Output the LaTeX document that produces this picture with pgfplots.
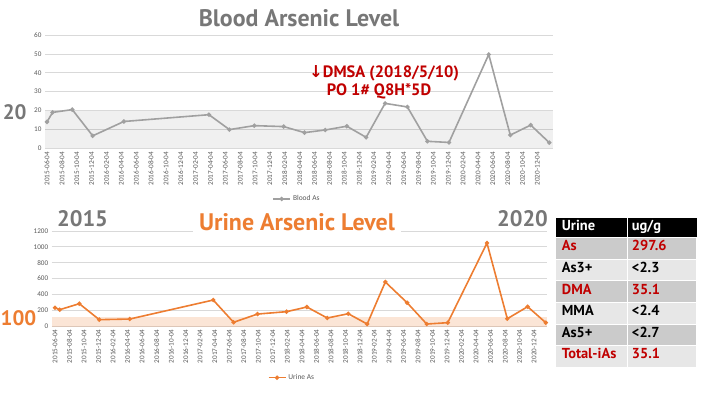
\documentclass[border=0pt]{standalone}
\usepackage{pgfplots}
\pgfplotsset{compat=1.18}
\usepackage{fontspec}
\setmainfont{Carlito}
\newfontfamily\lato{PT Sans}
\newfontfamily\dejavu{DejaVu Sans}
\definecolor{bloodgray}{HTML}{A0A0A0}
\definecolor{urineor}{HTML}{ED7D31}
\definecolor{titlegray}{HTML}{777777}
\definecolor{darkred}{HTML}{C00000}
\definecolor{gridc}{HTML}{D9D9D9}
\definecolor{tickc}{HTML}{595959}
\definecolor{rowdark}{HTML}{CBCBCB}
\definecolor{rowlight}{HTML}{E7E7E7}

\pgfplotsset{
 datestyle/.style={
  scale only axis, clip=false,
  axis line style={draw=none},
  major tick length=0pt,
  ymajorgrids, grid style={gridc, line width=0.7bp},
  xtick={0,2,...,66},
  xticklabels={2015-06-04,2015-08-04,2015-10-04,2015-12-04,2016-02-04,2016-04-04,2016-06-04,2016-08-04,2016-10-04,2016-12-04,2017-02-04,2017-04-04,2017-06-04,2017-08-04,2017-10-04,2017-12-04,2018-02-04,2018-04-04,2018-06-04,2018-08-04,2018-10-04,2018-12-04,2019-02-04,2019-04-04,2019-06-04,2019-08-04,2019-10-04,2019-12-04,2020-02-04,2020-04-04,2020-06-04,2020-08-04,2020-10-04,2020-12-04},
  tick label style={font=\fontsize{7.2}{8}\selectfont, text=tickc},
  x tick label style={rotate=90, anchor=east},
  /pgf/number format/assume math mode=true,
  /pgf/number format/1000 sep={},
  legend style={draw=none, fill=none, font=\fontsize{7.5}{8}\selectfont, text=tickc, anchor=center, inner sep=1bp},
 }
}

\begin{document}
\begin{tikzpicture}[x=1bp,y=1bp]
\path[use as bounding box] (0,0) rectangle (708,396);

% ---------------- Blood ----------------
\begin{axis}[datestyle, at={(45bp,247.7bp)}, anchor=south west, width=508bp, height=113.3bp,
  xmin=-0.27, xmax=68.1, ymin=0, ymax=60, ytick={0,10,...,60},
  legend style={at={(0.496,-0.447)}}]
\addplot[draw=none, fill=black, fill opacity=0.06, forget plot] coordinates {(-0.27,0) (68.1,0) (68.1,20) (-0.27,20)} -- cycle;
\addplot[bloodgray, line width=1.6bp, mark=*, mark size=1.3bp] coordinates {
(0,14) (0.75,19) (3.4,20.5) (6.15,6.6) (10.35,14.2) (21.8,17.8) (24.55,9.9) (27.9,12) (31.85,11.5) (34.65,8.3) (37.45,9.7) (40.35,11.7) (42.95,5.8) (45.5,23.8) (48.5,21.9) (51.2,3.7) (54.1,3.1) (59.45,49.7) (62.35,7) (65.1,12.3) (67.6,3)};
\legend{Blood As}
\end{axis}

% ---------------- Urine ----------------
\begin{axis}[datestyle, at={(51.7bp,70bp)}, anchor=south west, width=495.3bp, height=95bp,
  xmin=-0.45, xmax=67.77, ymin=0, ymax=1200, ytick={0,200,...,1200},
  legend style={at={(0.485,-0.544)}}]
\addplot[draw=none, fill=urineor, fill opacity=0.2, forget plot] coordinates {(-0.45,-12) (67.77,-12) (67.77,117) (-0.45,117)} -- cycle;
\addplot[urineor, line width=1.6bp, mark=*, mark size=1.3bp] coordinates {
(0,231) (0.65,206) (3.35,282) (6.1,80) (10.3,88) (21.8,328) (24.6,47) (27.9,151) (31.9,181) (34.7,240) (37.5,101) (40.4,155) (43.0,25) (45.5,556) (48.5,294) (51.2,25) (54.1,42) (59.5,1048) (62.3,92) (65.1,244) (67.6,42)};
\legend{Urine As}
\end{axis}

% ---------------- Texts ----------------
\node[anchor=base, text=titlegray, font=\lato\bfseries\fontsize{24}{26}\selectfont] at (299,370) {Blood Arsenic Level};
\node[anchor=base, fill=white, inner xsep=6bp, inner ysep=2bp, text=urineor, font=\lato\bfseries\fontsize{24}{26}\selectfont] at (297,165.5) {Urine Arsenic Level};
\node[anchor=base, text=titlegray, font=\lato\bfseries\fontsize{22.5}{26}\selectfont] at (82.5,169.3) {2015};
\node[anchor=base, text=titlegray, font=\lato\bfseries\fontsize{22.5}{26}\selectfont] at (522.5,169.3) {2020};
\node[anchor=base, text=titlegray, font=\lato\bfseries\fontsize{21}{24}\selectfont] at (14.7,277) {20};
\node[anchor=base, text=urineor, font=\lato\bfseries\fontsize{21}{24}\selectfont] at (18.5,71) {100};
\node[anchor=base, text=darkred, font=\lato\bfseries\fontsize{16.5}{18}\selectfont] at (384,319) {{\dejavu\bfseries ↓}DMSA (2018/5/10)};
\node[anchor=base, text=darkred, font=\lato\bfseries\fontsize{16.5}{18}\selectfont] at (379,301) {PO 1\# Q8H*5D};

% ---------------- Table ----------------
\fill[black] (555.7,158.3) rectangle (696.7,177.7);
\draw[white, line width=1bp] (627,158.3) -- (627,177.7);
\foreach \i/\c in {1/rowdark,2/rowlight,3/rowdark,4/rowlight,5/rowdark,6/rowlight} {
  \filldraw[fill=\c, draw=white, line width=1bp] (555.7,{158.3-21.6*\i}) rectangle (627,{158.3-21.6*(\i-1)});
  \filldraw[fill=\c, draw=white, line width=1bp] (627,{158.3-21.6*\i}) rectangle (696.7,{158.3-21.6*(\i-1)});
}
\begin{scope}[every node/.style={anchor=mid west, font=\lato\bfseries\fontsize{14.5}{16}\selectfont, inner sep=0pt}]
\node[text=white] at (561.7,167.5) {\bfseries Urine};
\node[text=white] at (631.7,167.5) {\bfseries ug/g};
\node[text=darkred] at (561.7,{158.3-21.6*0.5}) {\bfseries As};
\node[text=darkred] at (631.7,{158.3-21.6*0.5}) {\bfseries 297.6};
\node[text=black] at (561.7,{158.3-21.6*1.5}) {\bfseries As3+};
\node[text=black] at (631.7,{158.3-21.6*1.5}) {\bfseries <2.3};
\node[text=darkred] at (561.7,{158.3-21.6*2.5}) {\bfseries DMA};
\node[text=darkred] at (631.7,{158.3-21.6*2.5}) {\bfseries 35.1};
\node[text=black] at (561.7,{158.3-21.6*3.5}) {\bfseries MMA};
\node[text=black] at (631.7,{158.3-21.6*3.5}) {\bfseries <2.4};
\node[text=black] at (561.7,{158.3-21.6*4.5}) {\bfseries As5+};
\node[text=black] at (631.7,{158.3-21.6*4.5}) {\bfseries <2.7};
\node[text=darkred] at (561.7,{158.3-21.6*5.5}) {\bfseries Total-iAs};
\node[text=darkred] at (631.7,{158.3-21.6*5.5}) {\bfseries 35.1};
\end{scope}
\end{tikzpicture}
\end{document}
